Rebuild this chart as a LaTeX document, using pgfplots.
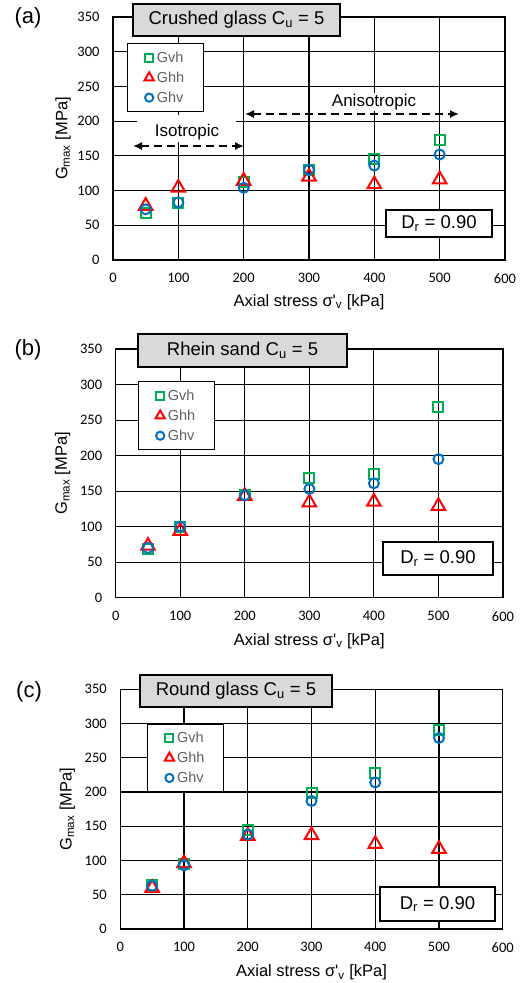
\documentclass[border=0pt]{standalone}
\usepackage{fontspec}
\setmainfont{Liberation Sans}
\newfontfamily\tickfont{Carlito}
\usepackage{pgfplots}
\pgfplotsset{compat=1.18}
\usetikzlibrary{arrows.meta}
\definecolor{cgreen}{HTML}{00B050}
\definecolor{cred}{HTML}{FF0000}
\definecolor{cblue}{HTML}{0070C0}
\definecolor{boxgray}{HTML}{D9D9D9}
\definecolor{legtext}{HTML}{606060}
\newcommand\boxfont{\fontsize{18.5}{21}\selectfont}
\pgfplotsset{
  panel/.style={
    scale only axis,
    xmin=0, xmax=600, ymin=0, ymax=350,
    xtick={0,100,...,600}, ytick={0,50,...,350},
    grid=major,
    major grid style={black, line width=1.1pt},
    axis line style={black, line width=1.3pt},
    major tick length=0pt,
    /pgf/number format/assume math mode=true,
    tick label style={font=\tickfont\fontsize{14.5}{16}\selectfont},
    xticklabel style={yshift=-10pt},
    yticklabel style={xshift=-10pt},
    xlabel={Axial stress σ\textquotesingle\textsubscript{v} [kPa]},
    ylabel={G\textsubscript{max} [MPa]},
    label style={font=\fontsize{16.5}{19}\selectfont},
    legend cell align=left,
    legend style={anchor=north west, draw=black, line width=1.2pt, fill=white,
      font=\fontsize{14.5}{16}\selectfont, text=legtext,
      inner xsep=17pt, inner ysep=6pt, row sep=4pt, column sep=1pt},
  },
  gvh/.style={only marks, mark=square, mark size=5pt, color=cgreen, mark options={line width=2pt, solid},
    legend image code/.code={\draw[##1, mark size=4pt] plot coordinates {(0pt,0pt)};}},
  ghh/.style={only marks, mark=triangle, mark size=7.8pt, color=cred, mark options={line width=2pt, solid},
    legend image code/.code={\draw[##1, mark size=5.3pt] plot coordinates {(0pt,0pt)};}},
  ghv/.style={only marks, mark=o, mark size=5pt, color=cblue, mark options={line width=2pt, solid},
    legend image code/.code={\draw[##1, mark size=4.1pt] plot coordinates {(0pt,0pt)};}},
}
\begin{document}
\begin{tikzpicture}
\path[use as bounding box] (0pt,0pt) rectangle (523pt,-983pt);

% ---------------- (a)
\begin{axis}[panel, at={(113pt,-260pt)}, anchor=south west, width=392pt, height=243pt,
  xlabel style={at={(axis description cs:0.5,-0.1728)}, anchor=center},
  ylabel style={at={(axis description cs:-0.1276,0.5)}, anchor=center, rotate=0},
  legend style={at={(axis description cs:0.0357,0.893)}}]
\addplot[gvh] coordinates {(50,67) (100,82) (200,112) (300,130) (400,146) (500,173)};
\addlegendentry{Gvh}
\addplot[ghh] coordinates {(50,78) (100,104) (200,114) (300,120) (400,109) (500,116)};
\addlegendentry{Ghh}
\addplot[ghv] coordinates {(50,73) (100,83) (200,104) (300,130) (400,136) (500,152)};
\addlegendentry{Ghv}
\end{axis}

% ---------------- (b)
\begin{axis}[panel, at={(115.7pt,-597.7pt)}, anchor=south west, width=387.3pt, height=248.7pt,
  xlabel style={at={(axis description cs:0.5,-0.174)}, anchor=center},
  ylabel style={at={(axis description cs:-0.137,0.5)}, anchor=center, rotate=0},
  legend style={at={(axis description cs:0.0576,0.871)}}]
\addplot[gvh] coordinates {(50,68) (100,100) (200,144) (300,169) (400,174) (500,268)};
\addlegendentry{Gvh}
\addplot[ghh] coordinates {(50,73) (100,94) (200,143) (300,134) (400,135) (500,129)};
\addlegendentry{Ghh}
\addplot[ghv] coordinates {(50,70) (100,100) (200,144) (300,153) (400,161) (500,195)};
\addlegendentry{Ghv}
\end{axis}

% ---------------- (c)
\begin{axis}[panel, at={(120.3pt,-929pt)}, anchor=south west, width=382.4pt, height=239.7pt,
  xlabel style={at={(axis description cs:0.5,-0.182)}, anchor=center},
  ylabel style={at={(axis description cs:-0.1385,0.5)}, anchor=center, rotate=0},
  legend style={at={(axis description cs:0.0705,0.858)}}]
\addplot[gvh] coordinates {(50,64) (100,95) (200,145) (300,199) (400,228) (500,291)};
\addlegendentry{Gvh}
\addplot[ghh] coordinates {(50,60) (100,96) (200,136) (300,137) (400,124) (500,117)};
\addlegendentry{Ghh}
\addplot[ghv] coordinates {(50,63) (100,93) (200,138) (300,187) (400,214) (500,279)};
\addlegendentry{Ghv}
\end{axis}

% panel letters
\node[font=\fontsize{22}{24}\selectfont] at (28pt,-18pt) {(a)};
\node[font=\fontsize{22}{24}\selectfont] at (28pt,-350pt) {(b)};
\node[font=\fontsize{22}{24}\selectfont] at (29pt,-692pt) {(c)};

% title boxes
\node[draw, line width=2pt, fill=boxgray, minimum width=207pt, minimum height=32pt, inner sep=0pt, font=\boxfont]
  at (236.5pt,-20pt) {Crushed glass C\textsubscript{u} = 5};
\node[draw, line width=2pt, fill=boxgray, minimum width=209pt, minimum height=33pt, inner sep=0pt, font=\boxfont]
  at (242.5pt,-350.5pt) {Rhein sand C\textsubscript{u} = 5};
\node[draw, line width=2pt, fill=boxgray, minimum width=192pt, minimum height=32pt, inner sep=0pt, font=\boxfont]
  at (236pt,-691pt) {Round glass C\textsubscript{u} = 5};

% Dr boxes
\node[draw, line width=2pt, fill=white, minimum width=106pt, minimum height=27pt, inner sep=0pt, font=\boxfont]
  at (439pt,-223.5pt) {D\textsubscript{r} = 0.90};
\node[draw, line width=2pt, fill=white, minimum width=110pt, minimum height=33pt, inner sep=0pt, font=\boxfont]
  at (438pt,-558.5pt) {D\textsubscript{r} = 0.90};
\node[draw, line width=2pt, fill=white, minimum width=115pt, minimum height=34pt, inner sep=0pt, font=\boxfont]
  at (437.5pt,-904pt) {D\textsubscript{r} = 0.90};

% isotropic / anisotropic annotations (a)
\fill[white] (137pt,-115pt) rectangle (236pt,-142pt);
\node[font=\fontsize{17}{19}\selectfont] at (187pt,-132pt) {Isotropic};
\draw[line width=1.6pt, dash pattern=on 8pt off 5pt, {Latex[length=9pt,width=8pt]}-{Latex[length=9pt,width=8pt]}]
  (133pt,-146pt) -- (244pt,-146pt);
\node[font=\fontsize{17}{19}\selectfont, fill=white, inner sep=1pt] at (374pt,-102pt) {Anisotropic};
\draw[line width=1.6pt, dash pattern=on 8pt off 5pt, {Latex[length=9pt,width=8pt]}-{Latex[length=9pt,width=8pt]}]
  (245pt,-114pt) -- (459pt,-114pt);
\end{tikzpicture}
\end{document}
